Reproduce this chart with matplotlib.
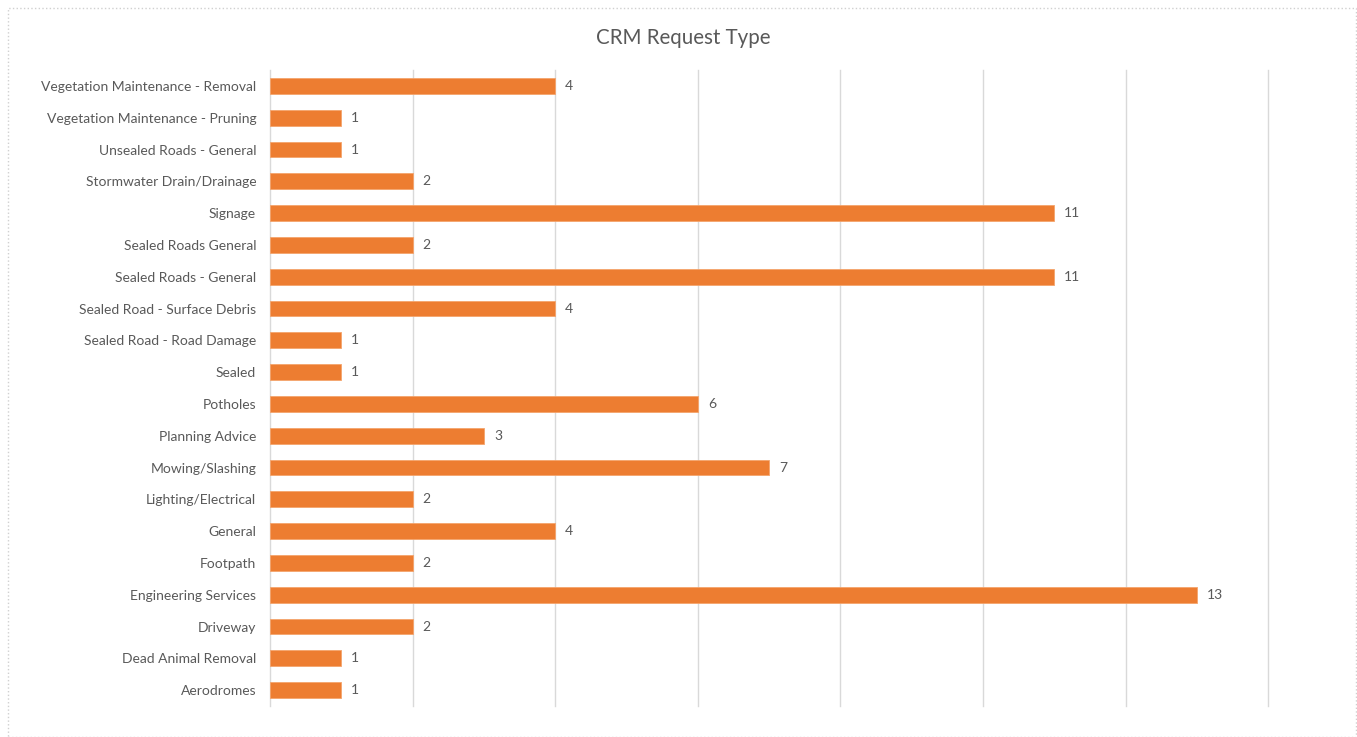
import matplotlib.pyplot as plt
from matplotlib.patches import Rectangle

categories = ['Vegetation Maintenance - Removal', 'Vegetation Maintenance - Pruning',
              'Unsealed Roads - General', 'Stormwater Drain/Drainage', 'Signage',
              'Sealed Roads General', 'Sealed Roads - General', 'Sealed Road - Surface Debris',
              'Sealed Road - Road Damage', 'Sealed', 'Potholes', 'Planning Advice',
              'Mowing/Slashing', 'Lighting/Electrical', 'General', 'Footpath',
              'Engineering Services', 'Driveway', 'Dead Animal Removal', 'Aerodromes']
counts = [4, 1, 1, 2, 11, 2, 11, 4, 1, 1, 6, 3, 7, 2, 4, 2, 13, 2, 1, 1]

plt.rcParams['font.family'] = ['Lato', 'DejaVu Sans']
grey = '#595959'

fig = plt.figure(figsize=(13.57, 7.37), dpi=100)
ax = fig.add_axes([0.199, 0.042, 0.7355, 0.863])

ypos = list(range(len(categories)))[::-1]
ax.barh(ypos, counts, height=0.5, color='#ED7D31', edgecolor='#F4A46C', linewidth=0.6, zorder=3)
for y, v in zip(ypos, counts):
    ax.text(v + 0.14, y, str(v), va='center', ha='left', fontsize=10, color=grey)

ax.set_xlim(0, 14)
ax.set_ylim(-0.5, len(categories) - 0.5)
ax.set_xticks(range(0, 15, 2))
ax.set_xticklabels([])
ax.set_yticks(ypos)
ax.set_yticklabels(categories, fontsize=10, color=grey)
ax.tick_params(axis='y', length=0, pad=10)
ax.tick_params(axis='x', length=0)
ax.grid(axis='x', color='#D9D9D9', linewidth=1, zorder=0)
for line in ax.get_xgridlines():
    line.set_clip_on(False)
for s in ax.spines.values():
    s.set_visible(False)

fig.text(0.5035, 0.949, 'CRM Request Type', ha='center', va='center', fontsize=14.8, color=grey)
fig.patches.append(Rectangle((0.006, 0.0), 0.993, 0.989, transform=fig.transFigure,
                             fill=False, edgecolor='#D0D0D0', linestyle=':', linewidth=1))

plt.savefig('out.png', dpi=100)
